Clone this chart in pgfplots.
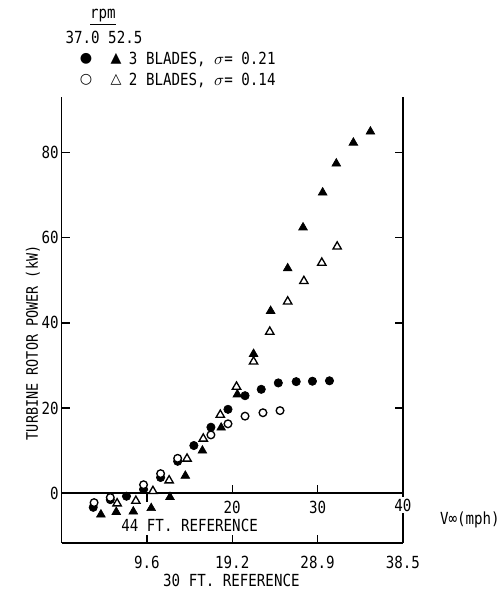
\documentclass[border=0pt]{standalone}
\usepackage{pgfplots}
\pgfplotsset{compat=1.18}
\usepackage{fontspec}
\setmainfont{DejaVu Sans Mono}[FakeStretch=0.85]
\newfontfamily\symfont{DejaVu Sans}
\newcommand{\lbl}{\fontsize{10}{12}\selectfont}
\begin{document}
\begin{tikzpicture}
\begin{axis}[
  scale only axis,
  x=5.118pt, y=2.556pt,
  xmin=0, xmax=40, ymin=-11.7, ymax=93,
  axis x line*=bottom, axis y line*=box,
  axis line style={line width=0.9pt},
  every tick/.style={black, line width=0.8pt},
  major tick length=4.8pt,
  tick align=inside,
  xtick={10,20,30,40}, xticklabels={9.6,19.2,28.9,38.5},
  xtick style={draw=none},
  ytick={0,20,40,60,80},
  ytick pos=both,
  /pgf/number format/assume math mode=true,
  tick label style={font=\lbl},
  xticklabel style={yshift=-4pt},
  yticklabel style={xshift=1.8pt},
  clip=false,
]
% bounding box of the whole figure
\path (axis cs:-7.23,-23.17) rectangle (axis cs:51.74,115.8);
% data
\addplot[only marks, mark=*, mark size=2.5pt, black] coordinates {
 (3.7,-3.3) (5.7,-1.5) (7.6,-0.7) (9.6,0.9) (11.6,3.7) (13.6,7.5) (15.5,11.2)
 (17.5,15.5) (19.5,19.7) (21.5,22.9) (23.4,24.4) (25.4,25.9) (27.5,26.2)
 (29.4,26.3) (31.4,26.4)};
\addplot[only marks, mark=*, mark size=2.3pt, black, line width=0.8pt, mark options={fill=white}] coordinates {
 (3.8,-2.2) (5.7,-1.0) (9.6,2.0) (11.6,4.6) (13.6,8.2) (17.5,13.7) (19.5,16.3)
 (21.5,18.1) (23.6,18.9) (25.6,19.4)};
\addplot[only marks, mark=triangle*, mark size=3.0pt, black] coordinates {
 (4.6,-5.0) (6.4,-4.4) (8.4,-4.3) (10.5,-3.5) (12.7,-0.9) (14.5,4.1) (16.5,10.0)
 (18.7,15.4) (20.6,23.2) (22.5,32.7) (24.5,42.8) (26.5,52.8) (28.3,62.4)
 (30.6,70.6) (32.2,77.4) (34.2,82.3) (36.2,84.9)};
\addplot[only marks, mark=triangle*, mark size=2.9pt, black, line width=0.8pt, mark options={fill=white}] coordinates {
 (6.5,-2.4) (8.7,-1.8) (10.7,0.5) (12.6,3.0) (14.7,8.1) (16.6,12.8) (18.6,18.4)
 (20.5,25.0) (22.5,30.9) (24.4,37.9) (26.5,45.0) (28.4,49.8) (30.5,54.1) (32.3,57.9)};
% bottom (30 ft) ticks
\draw[line width=0.8pt] (axis cs:10,-11.7) -- (axis cs:10,-9.8);
\draw[line width=0.8pt] (axis cs:20,-11.7) -- (axis cs:20,-9.8);
\draw[line width=0.8pt] (axis cs:30,-11.7) -- (axis cs:30,-9.8);
% 44 ft reference axis at zero
\draw[line width=0.9pt] (axis cs:0,0) -- (axis cs:40,0);
\draw[line width=0.8pt] (axis cs:20,0) -- (axis cs:20,1.9);
\draw[line width=0.8pt] (axis cs:30,0) -- (axis cs:30,1.9);
\draw[line width=0.8pt] (axis cs:10,0) -- (axis cs:10,-2.0);
\node[font=\lbl] at (axis cs:20,-3.3) {20};
\node[font=\lbl] at (axis cs:30,-3.3) {30};
\node[font=\lbl, fill=white, inner sep=1pt] at (axis cs:40,-2.8) {40};
\node[font=\lbl] at (axis cs:15.0,-7.5) {44 FT. REFERENCE};
\node[font=\lbl] at (axis cs:19.9,-20.4) {30 FT. REFERENCE};
\node[font=\lbl, anchor=east, inner sep=0pt] at (axis cs:51.4,-6.3) {V∞(mph)};
\node[font=\fontsize{9.5}{11}\selectfont, rotate=90] at (axis cs:-3.36,35.3) {TURBINE ROTOR POWER (kW)};
% legend
\node[font=\lbl] at (axis cs:4.84,111.8) {\underline{rpm}};
\node[font=\lbl] at (axis cs:4.96,107.1) {37.0 52.5};
\node[font=\symfont\fontsize{8.5}{9}\selectfont] at (axis cs:2.85,101.9) {●};
\node[font=\symfont\fontsize{8.5}{9}\selectfont] at (axis cs:6.37,101.9) {▲};
\node[font=\lbl, anchor=west] at (axis cs:7.2,101.9) {3 BLADES, $\sigma$= 0.21};
\node[font=\symfont\fontsize{8.5}{9}\selectfont] at (axis cs:2.85,97.0) {○};
\node[font=\symfont\fontsize{8.5}{9}\selectfont] at (axis cs:6.37,97.0) {△};
\node[font=\lbl, anchor=west] at (axis cs:7.2,97.0) {2 BLADES, $\sigma$= 0.14};
\end{axis}
\end{tikzpicture}
\end{document}
